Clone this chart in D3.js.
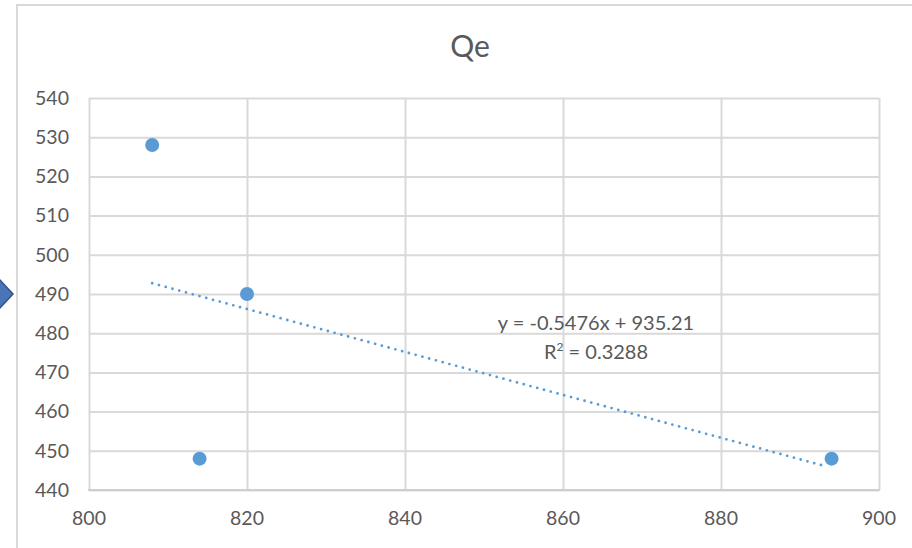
<!DOCTYPE html>
<html>
<head>
<meta charset="utf-8">
<script src="https://cdn.jsdelivr.net/npm/d3@7/dist/d3.min.js"></script>
<style>
  html, body { margin: 0; padding: 0; background: #fff; }
  svg { display: block; }
  text { font-family: Lato, "Open Sans", sans-serif; fill: #595959; }
</style>
</head>
<body>
<svg id="chart" width="912" height="548"></svg>
<script>
// Observations
const xValues = [808, 814, 820, 894];
const yValues = [528, 448, 490, 448];

// Axis ticks
const xTicks = [800, 820, 840, 860, 880, 900];
const yTicks = [440, 450, 460, 470, 480, 490, 500, 510, 520, 530, 540];

const title = "Qe";

const W = 912, H = 548;
const plot = { left: 89, right: 879, top: 98, bottom: 490 };
const blue = "#5B9BD5";
const grid = "#D9D9D9";

const svg = d3.select("#chart");

// Chart frame
svg.append("rect")
  .attr("x", 17).attr("y", 5)
  .attr("width", W + 10).attr("height", H + 10)
  .attr("fill", "#fff").attr("stroke", grid).attr("stroke-width", 2);

// Small navigation marker at the left edge
svg.append("path")
  .attr("d", "M-14,294 L0,280 L13,294 L0,308 Z")
  .attr("fill", "#4A76B8").attr("stroke", "#2F528F").attr("stroke-width", 1.5);

const x = d3.scaleLinear().domain([800, 900]).range([plot.left, plot.right]);
const y = d3.scaleLinear().domain([440, 540]).range([plot.bottom, plot.top]);

// Gridlines
const g = svg.append("g");
g.append("g")
  .attr("transform", `translate(0,${plot.bottom})`)
  .call(d3.axisBottom(x).tickValues(xTicks).tickSize(-(plot.bottom - plot.top)).tickFormat(""))
  .call(s => s.select(".domain").remove())
  .call(s => s.selectAll("line").attr("stroke", grid).attr("stroke-width", 2));
g.append("g")
  .attr("transform", `translate(${plot.left},0)`)
  .call(d3.axisLeft(y).tickValues(yTicks).tickSize(-(plot.right - plot.left)).tickFormat(""))
  .call(s => s.select(".domain").remove())
  .call(s => s.selectAll("line").attr("stroke", grid).attr("stroke-width", 2));

// Bottom axis line
svg.append("line")
  .attr("x1", plot.left - 1).attr("x2", plot.right + 1)
  .attr("y1", plot.bottom).attr("y2", plot.bottom)
  .attr("stroke", "#CFCFCF").attr("stroke-width", 2);

// Tick labels
svg.append("g").selectAll("text").data(xTicks).join("text")
  .attr("x", d => x(d)).attr("y", plot.bottom + 35)
  .attr("text-anchor", "middle").attr("font-size", 19.5)
  .text(d => d);
svg.append("g").selectAll("text").data(yTicks).join("text")
  .attr("x", 69).attr("y", d => y(d) + 6.8)
  .attr("text-anchor", "end").attr("font-size", 19.5)
  .text(d => d);

// Title
svg.append("text")
  .attr("x", 470).attr("y", 57)
  .attr("text-anchor", "middle").attr("font-size", 30)
  .text(title);

// Least-squares trendline
const n = xValues.length;
const mx = d3.mean(xValues), my = d3.mean(yValues);
let sxy = 0, sxx = 0, syy = 0;
for (let i = 0; i < n; i++) {
  sxy += (xValues[i] - mx) * (yValues[i] - my);
  sxx += (xValues[i] - mx) ** 2;
  syy += (yValues[i] - my) ** 2;
}
const slope = sxy / sxx;
const intercept = my - slope * mx;
const r2 = (sxy * sxy) / (sxx * syy);
const [x0, x1] = d3.extent(xValues);

svg.append("line")
  .attr("x1", x(x0)).attr("y1", y(slope * x0 + intercept))
  .attr("x2", x(x1 - 1)).attr("y2", y(slope * (x1 - 1) + intercept))
  .attr("stroke", blue).attr("stroke-width", 2.8)
  .attr("stroke-linecap", "round")
  .attr("stroke-dasharray", "0 7");

// Points
svg.append("g").selectAll("circle").data(xValues).join("circle")
  .attr("cx", d => x(d)).attr("cy", (d, i) => y(yValues[i]))
  .attr("r", 7).attr("fill", blue);

// Trendline equation
const fmt = v => v.toFixed(4);
const eq = svg.append("g").attr("font-size", 20);
eq.append("text")
  .attr("x", 596).attr("y", 330).attr("text-anchor", "middle")
  .text(`y = ${fmt(slope)}x + ${intercept.toFixed(2)}`);
const r2Text = eq.append("text")
  .attr("x", 596).attr("y", 359).attr("text-anchor", "middle");
r2Text.append("tspan").text("R");
r2Text.append("tspan").attr("font-size", 12).attr("dy", -8).text("2");
r2Text.append("tspan").attr("dy", 8).text(` = ${r2.toFixed(4)}`);
</script>
</body>
</html>
